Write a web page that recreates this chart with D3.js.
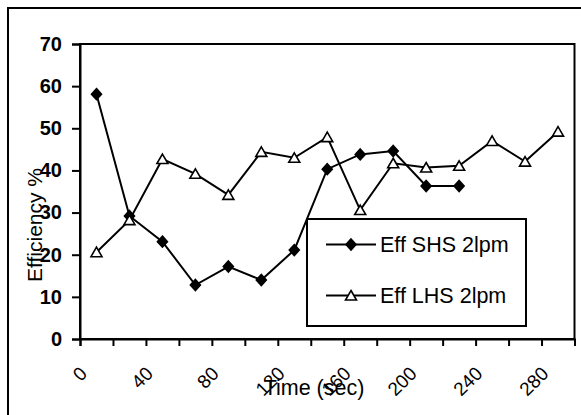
<!DOCTYPE html>
<html><head><meta charset="utf-8">
<script src="https://cdn.jsdelivr.net/npm/d3@7"></script>
<style>body{margin:0;background:#fff}svg{display:block}</style>
</head><body>
<svg id="c" width="581" height="415"></svg>
<script>
const categories = [0,20,40,60,80,100,120,140,160,180,200,220,240,260,280];
const tickLabels = ["0","40","80","120","160","200","240","280"];
const effSHS = [58.1,29.2,23.1,12.8,17.2,14.0,21.1,40.3,43.8,44.6,36.3,36.3];
const effLHS = [20.6,28.2,42.7,39.2,34.2,44.4,43.0,47.9,30.6,41.7,40.7,41.1,47.0,42.1,49.2];
const yTicks = [0,10,20,30,40,50,60,70];

const svg = d3.select("#c");
const font = "'Liberation Sans', Arial, sans-serif";
const L = 80, R = 574.5, T = 44, B = 339;

svg.append("rect").attr("x",8).attr("y",8).attr("width",600).attr("height",420)
  .attr("fill","#fff").attr("stroke","#000").attr("stroke-width",2);

const xb = d3.scaleBand().domain(categories).range([L,R]).padding(0);
const xe = d3.scaleLinear().domain([0,categories.length]).range([L,R]);
const y = d3.scaleLinear().domain([0,70]).range([B,T]);

// plot area border
svg.append("rect").attr("x",L).attr("y",T).attr("width",R-L).attr("height",B-T)
  .attr("fill","none").attr("stroke","#000").attr("stroke-width",2);

// y axis
const ya = svg.append("g").attr("transform",`translate(${L},0)`)
  .call(d3.axisLeft(y).tickValues(yTicks).tickSize(8).tickPadding(10).tickFormat(d3.format("d")));
ya.select(".domain").attr("stroke","#000").attr("stroke-width",2);
ya.selectAll(".tick line").attr("stroke","#000").attr("stroke-width",2);
ya.selectAll(".tick text").attr("font-family",font).attr("font-size",20).attr("font-weight","bold").attr("fill","#000");

// x axis ticks at band edges
const xa = svg.append("g").attr("transform",`translate(0,${B})`)
  .call(d3.axisBottom(xe).tickValues(d3.range(categories.length+1)).tickSize(7).tickFormat(""));
xa.select(".domain").attr("stroke","#000").attr("stroke-width",2);
xa.selectAll(".tick line").attr("stroke","#000").attr("stroke-width",2);

// x labels (every other category)
svg.append("g").selectAll("text").data(categories.filter((d,i)=>i%2===0)).join("text")
  .attr("transform",d=>`translate(${xb(d)+xb.bandwidth()/2-13},370) rotate(-45)`)
  .attr("text-anchor","end").attr("dy","0.35em")
  .attr("font-family",font).attr("font-size",19).attr("fill","#000")
  .text((d,i)=>tickLabels[i]);

// axis titles
svg.append("text").attr("x",314).attr("y",395).attr("text-anchor","middle")
  .attr("font-family",font).attr("font-size",21.5).attr("fill","#000").text("Time (sec)");
svg.append("text").attr("transform","translate(42,225) rotate(-90)").attr("text-anchor","middle")
  .attr("font-family",font).attr("font-size",21).attr("fill","#000").text("Efficiency %");

const cx = (d,i)=>xb(categories[i])+xb.bandwidth()/2;
const line = d3.line().x((d,i)=>cx(d,i)).y(d=>y(d));
const diamond = "M0,-5.5L5,0L0,5.5L-5,0Z";
const tri = "M0,-5L5.5,4.5L-5.5,4.5Z";

function series(data, path, fill){
  svg.append("path").datum(data).attr("d",line).attr("fill","none")
    .attr("stroke","#000").attr("stroke-width",2);
  svg.append("g").selectAll("path").data(data).join("path")
    .attr("transform",(d,i)=>`translate(${cx(d,i)},${y(d)})`)
    .attr("d",path).attr("fill",fill).attr("stroke","#000").attr("stroke-width",1.6);
}
series(effSHS, diamond, "#000");
series(effLHS, tri, "#fff");

// legend
const lg = svg.append("g");
lg.append("rect").attr("x",307).attr("y",219).attr("width",219).attr("height",107)
  .attr("fill","#fff").attr("stroke","#000").attr("stroke-width",2);
const items = [["Eff SHS 2lpm",diamond,"#000",244.5],["Eff LHS 2lpm",tri,"#fff",295.5]];
items.forEach(([name,p,f,yy])=>{
  lg.append("line").attr("x1",326).attr("x2",376).attr("y1",yy).attr("y2",yy)
    .attr("stroke","#000").attr("stroke-width",2);
  lg.append("path").attr("transform",`translate(351,${yy})`).attr("d",p)
    .attr("fill",f).attr("stroke","#000").attr("stroke-width",1.6);
  lg.append("text").attr("x",380).attr("y",yy).attr("dy","0.35em")
    .attr("font-family",font).attr("font-size",21.5).attr("fill","#000").text(name);
});
</script>
</body></html>
